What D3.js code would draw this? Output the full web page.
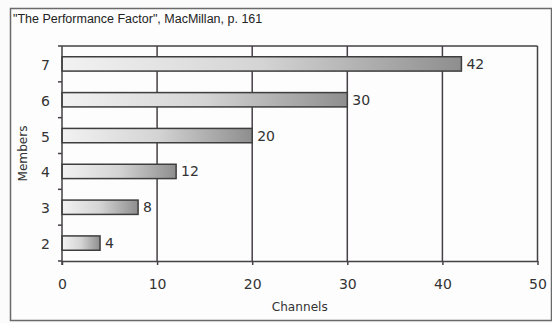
<!DOCTYPE html>
<html>
<head>
<meta charset="utf-8">
<script src="https://cdn.jsdelivr.net/npm/d3@7"></script>
<style>
  html, body { margin: 0; padding: 0; background: #fbfbfb; }
  svg { display: block; }
</style>
</head>
<body>
<svg id="chart" width="552" height="323"></svg>
<script>
// Members in the group and the communication channels between them
const members = ["7", "6", "5", "4", "3", "2"];
const channels = [42, 30, 20, 12, 8, 4];
const xTicks = [0, 10, 20, 30, 40, 50];
const title = "\"The Performance Factor\", MacMillan, p. 161";
const xTitle = "Channels";
const yTitle = "Members";

const svg = d3.select("#chart");
const font = "'DejaVu Sans', Verdana, sans-serif";
const ink = "#454045";

// outer frame
svg.append("rect")
  .attr("x", 10.5).attr("y", 8.5)
  .attr("width", 541).attr("height", 312)
  .attr("fill", "#fdfdfd").attr("stroke", "#6a6a6a").attr("stroke-width", 1.5);

svg.append("text")
  .attr("x", 13).attr("y", 23)
  .attr("font-family", "Arial, 'Liberation Sans', sans-serif")
  .attr("font-size", 12.5).attr("fill", "#222")
  .text(title);

const plot = { left: 62, right: 537.5, top: 46, bottom: 261 };

const x = d3.scaleLinear().domain([0, 50]).range([plot.left, plot.right]);
const y = d3.scaleBand().domain(members).range([plot.top, plot.bottom]).paddingInner(0.6).paddingOuter(0.3);
const yEdges = d3.scaleBand().domain(members).range([plot.top, plot.bottom]);

// bar fill: light on the left, darker grey toward the end
const defs = svg.append("defs");
const grad = defs.append("linearGradient").attr("id", "barGrad")
  .attr("x1", "0%").attr("x2", "100%").attr("y1", "0%").attr("y2", "0%");
grad.append("stop").attr("offset", "0%").attr("stop-color", "#f2f2f2");
grad.append("stop").attr("offset", "50%").attr("stop-color", "#d4d4d4");
grad.append("stop").attr("offset", "100%").attr("stop-color", "#8e8e8e");

// vertical gridlines
svg.append("g").selectAll("line")
  .data(xTicks.slice(1))
  .join("line")
  .attr("x1", d => x(d)).attr("x2", d => x(d))
  .attr("y1", plot.top).attr("y2", plot.bottom)
  .attr("stroke", ink).attr("stroke-width", 1.5);

// top border of plot area
svg.append("line")
  .attr("x1", plot.left).attr("x2", plot.right)
  .attr("y1", plot.top).attr("y2", plot.top)
  .attr("stroke", ink).attr("stroke-width", 1.5);

// bars
svg.append("g").selectAll("rect")
  .data(members.map((m, i) => ({ m, v: channels[i] })))
  .join("rect")
  .attr("x", x(0))
  .attr("y", d => y(d.m))
  .attr("width", d => x(d.v) - x(0))
  .attr("height", y.bandwidth())
  .attr("fill", "url(#barGrad)")
  .attr("stroke", "#3e3e3e").attr("stroke-width", 1.5);

// value labels
svg.append("g").selectAll("text")
  .data(members.map((m, i) => ({ m, v: channels[i] })))
  .join("text")
  .attr("x", d => x(d.v) + 5)
  .attr("y", d => y(d.m) + y.bandwidth() / 2)
  .attr("dy", "0.36em")
  .attr("font-family", font).attr("font-size", 14).attr("fill", "#333")
  .text(d => d.v);

// x axis
const xAxis = svg.append("g")
  .attr("transform", `translate(0,${plot.bottom})`)
  .call(d3.axisBottom(x).tickValues(xTicks).tickSize(4).tickPadding(14).tickSizeOuter(0));
xAxis.select(".domain").attr("stroke", ink).attr("stroke-width", 1.5);
xAxis.selectAll(".tick line").attr("stroke", ink).attr("stroke-width", 1.5);
xAxis.selectAll("text").attr("font-family", font).attr("font-size", 14).attr("fill", "#333");

// y axis: line with ticks at the category boundaries
const yAxis = svg.append("g").attr("transform", `translate(${plot.left},0)`);
yAxis.append("line")
  .attr("x1", 0).attr("x2", 0).attr("y1", plot.top).attr("y2", plot.bottom + 4)
  .attr("stroke", ink).attr("stroke-width", 1.5);
const edges = members.map(m => yEdges(m)).concat([plot.bottom]);
yAxis.selectAll("line.tk")
  .data(edges)
  .join("line").attr("class", "tk")
  .attr("x1", -4).attr("x2", 0)
  .attr("y1", d => d).attr("y2", d => d)
  .attr("stroke", ink).attr("stroke-width", 1.5);
yAxis.selectAll("text")
  .data(members)
  .join("text")
  .attr("x", -12)
  .attr("y", d => yEdges(d) + yEdges.bandwidth() / 2 + 1)
  .attr("dy", "0.36em")
  .attr("text-anchor", "end")
  .attr("font-family", font).attr("font-size", 14).attr("fill", "#333")
  .text(d => d);

// axis titles
svg.append("text")
  .attr("x", (plot.left + plot.right) / 2).attr("y", 311)
  .attr("text-anchor", "middle")
  .attr("font-family", font).attr("font-size", 13).attr("fill", "#333")
  .attr("textLength", 56).attr("lengthAdjust", "spacingAndGlyphs")
  .text(xTitle);

svg.append("text")
  .attr("transform", `translate(27,${(plot.top + plot.bottom) / 2}) rotate(-90)`)
  .attr("text-anchor", "middle")
  .attr("font-family", font).attr("font-size", 13).attr("fill", "#333")
  .attr("textLength", 56).attr("lengthAdjust", "spacingAndGlyphs")
  .text(yTitle);
</script>
</body>
</html>
